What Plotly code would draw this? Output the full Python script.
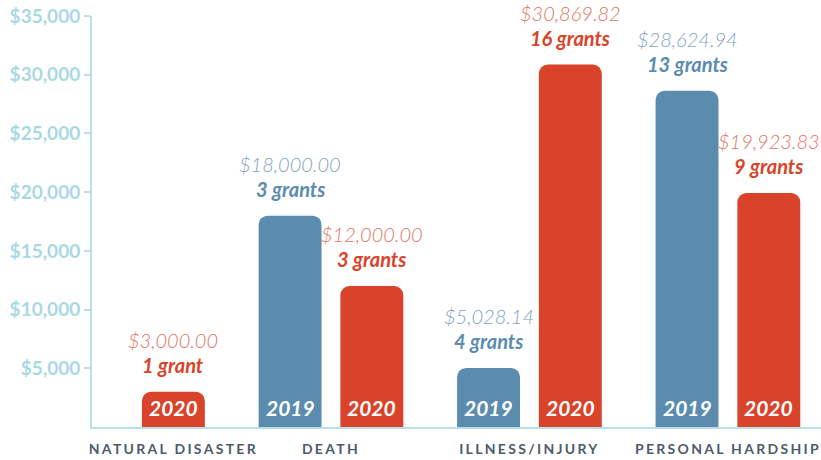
import plotly.graph_objects as go

# ---- data ----
categories = ["NATURAL DISASTER", "DEATH", "ILLNESS/INJURY", "PERSONAL HARDSHIP"]
years = ["2019", "2020"]
amount_2019 = [None, 18000.00, 5028.14, 28624.94]
amount_2020 = [3000.00, 12000.00, 30869.82, 19923.83]
grants_2019 = [None, 3, 4, 13]
grants_2020 = [1, 3, 16, 9]
y_tick_values = [5000, 10000, 15000, 20000, 25000, 30000, 35000]
y_tick_labels = ["$5,000", "$10,000", "$15,000", "$20,000", "$25,000", "$30,000", "$35,000"]

# ---- style ----
BLUE = "#5b8cae"
RED = "#d9432a"
BLUE_LIGHT = "#7fa4c2"
RED_LIGHT = "#e27563"
AXIS = "#b9e0ea"
TICK_TXT = "#a8d9e3"
CAT_TXT = "#4d5b6c"
OFFSET = 0.206
BAR_W = 0.317
FONT = "Lato"

fig = go.Figure()
series = [
    (years[0], amount_2019, grants_2019, -OFFSET, BLUE, BLUE_LIGHT),
    (years[1], amount_2020, grants_2020, OFFSET, RED, RED_LIGHT),
]

bar_x = {i: [] for i in range(len(categories))}
for year, amounts, grants, off, col, col_light in series:
    xs, ys = [], []
    for i, (a, g) in enumerate(zip(amounts, grants)):
        if a is None:
            continue
        x = i + off
        xs.append(x)
        ys.append(a)
        bar_x[i].append(x)
        fig.add_annotation(x=x, y=a, xref="x", yref="y", text=f"${a:,.2f}",
                           showarrow=False, yanchor="middle", yshift=52,
                           font=dict(family=FONT, size=20, weight=300, style="italic", color=col_light))
        fig.add_annotation(x=x, y=a, xref="x", yref="y",
                           text=f"{g} grant" + ("" if g == 1 else "s"),
                           showarrow=False, yanchor="middle", yshift=27,
                           font=dict(family=FONT, size=20, weight="bold", style="italic", color=col))
        fig.add_annotation(x=x, y=0, xref="x", yref="y", text=year,
                           showarrow=False, yanchor="middle", yshift=20,
                           font=dict(family=FONT, size=21, weight="bold", style="italic", color="white"))
    fig.add_trace(go.Bar(
        x=xs, y=ys, width=BAR_W, name=year,
        marker=dict(color=col, cornerradius=9, line=dict(width=0)),
        hoverinfo="skip",
    ))

tick_pos = [sum(bar_x[i]) / len(bar_x[i]) for i in range(len(categories))]
tick_text = [f"<span style='letter-spacing:2.3px'>{c}</span>" for c in categories]

fig.update_layout(
    width=821, height=460,
    margin=dict(l=92, r=0, t=16, b=33),
    paper_bgcolor="white", plot_bgcolor="white",
    barmode="overlay", showlegend=False,
    font=dict(family=FONT),
    xaxis=dict(range=[-0.204, 3.469], tickvals=tick_pos, ticktext=tick_text,
               showgrid=False, zeroline=False, showline=True, linecolor=AXIS, linewidth=2,
               ticks="", ticklabelstandoff=8, automargin=False,
               tickfont=dict(family=FONT, size=14, weight="bold", color=CAT_TXT)),
    yaxis=dict(range=[0, 35000], tickvals=y_tick_values, ticktext=y_tick_labels,
               showgrid=False, zeroline=False, showline=True, linecolor=AXIS, linewidth=2,
               ticks="outside", ticklen=6, tickwidth=2, tickcolor=AXIS, automargin=False,
               tickfont=dict(family=FONT, size=19, weight="bold", color=TICK_TXT)),
)

fig.write_html("out.html",
               config={"displayModeBar": False, "staticPlot": True},
               post_script="document.body.style.margin='0px';document.body.style.overflow='hidden';")
